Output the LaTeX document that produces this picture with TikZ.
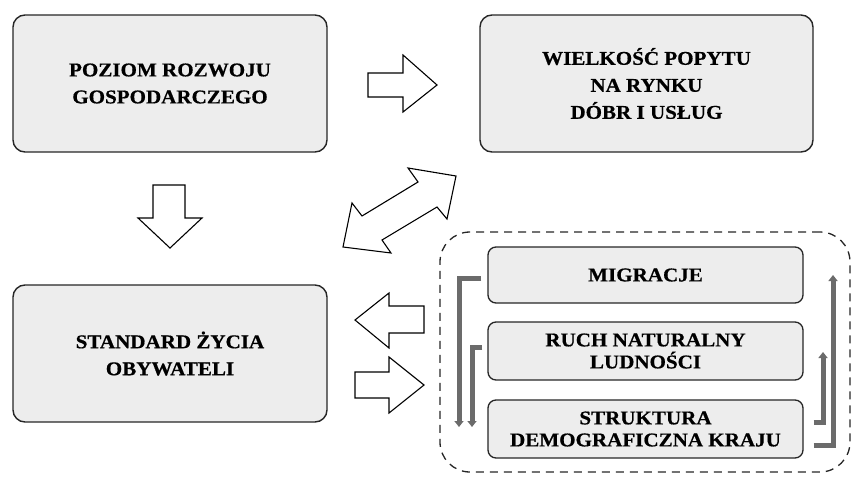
\documentclass[tikz,border=0pt]{standalone}
\usepackage{fontspec}
\newfontfamily\boxfont{Liberation Serif}[FakeStretch=1.08,FakeBold=0.6]
\usetikzlibrary{arrows.meta,calc}
\begin{document}
\begin{tikzpicture}[x=1pt,y=-1pt,
  bigbox/.style={draw=black!85, line width=1.4pt, fill=black!7, rounded corners=12pt,
    minimum height=137pt, align=center, inner sep=0pt, text=black,
    font=\boxfont\bfseries\fontsize{19.5}{27}\selectfont},
  smallbox/.style={draw=black!85, line width=1.3pt, fill=black!7, rounded corners=8pt,
    minimum width=315pt, align=center, inner sep=0pt, text=black,
    font=\boxfont\bfseries\fontsize{19.5}{22}\selectfont},
  blockarrow/.style={draw=black, line width=1.1pt, fill=white, line join=miter},
  grayarrow/.style={draw=black!58, line width=5pt, line join=miter,
    -{Triangle[length=6pt,width=9pt]}},
  container/.style={draw=black!85, line width=1.3pt, dash pattern=on 8pt off 6pt,
    rounded corners=30pt, minimum width=410pt, minimum height=240pt, inner sep=0pt}
]
\useasboundingbox (0,0) rectangle (854,490);

% main boxes
\node[bigbox, minimum width=314pt] (p1) at (170,83.5) {POZIOM ROZWOJU\\GOSPODARCZEGO};
\node[bigbox, minimum width=333pt] (p2) at (646.5,83.5) {WIELKOŚĆ POPYTU\\NA RYNKU\\DÓBR I USŁUG};
\node[bigbox, minimum width=314pt] (p3) at (170,353.5) {STANDARD ŻYCIA\\OBYWATELI};

% container and inner boxes
\node[container] (cont) at (645,352) {};
\node[smallbox, minimum height=56pt] (mig) at (645.5,275) {MIGRACJE};
\node[smallbox, minimum height=58pt] (ruch) at (645.5,351) {RUCH NATURALNY\\LUDNOŚCI};
\node[smallbox, minimum height=58pt] (str) at (645.5,429) {STRUKTURA\\DEMOGRAFICZNA KRAJU};

% gray connectors
\coordinate (lOutEnd) at (459,427);
\coordinate (lInEnd) at (472,427);
\coordinate (rOutEnd) at (833,275);
\coordinate (rInEnd) at (823,352);
\draw[grayarrow] ([shift={(-6,3)}]mig.west) -| (lOutEnd);
\draw[grayarrow] ([shift={(-5,-4)}]ruch.west) -| (lInEnd);
\draw[grayarrow] ([shift={(10,16)}]str.east) -| (rOutEnd);
\draw[grayarrow] ([shift={(10,-7)}]str.east) -| (rInEnd);

% block arrows
% p1 -> p2
\draw[blockarrow] (368,73) -- (403,73) -- (403,55) -- (437,85) -- (403,112) -- (403,97) -- (368,97) -- cycle;
% p1 -> p3
\draw[blockarrow] (153,185) -- (185,185) -- (185,218) -- (202,218) -- (170,248) -- (138,218) -- (153,218) -- cycle;
% double arrow p2 <-> p3
\draw[blockarrow] (456,176) -- (447,219) -- (437,207) -- (382,240) -- (391,253) -- (343,247)
  -- (352,203) -- (362,216) -- (418,182) -- (408,168) -- cycle;
% container -> p3
\draw[blockarrow] (355,320) -- (389,293) -- (389,306) -- (424,306) -- (424,333) -- (389,333) -- (389,348) -- cycle;
% p3 -> container
\draw[blockarrow] (355,372) -- (389,372) -- (389,357) -- (424,385) -- (389,413) -- (389,398) -- (355,398) -- cycle;
\end{tikzpicture}
\end{document}
